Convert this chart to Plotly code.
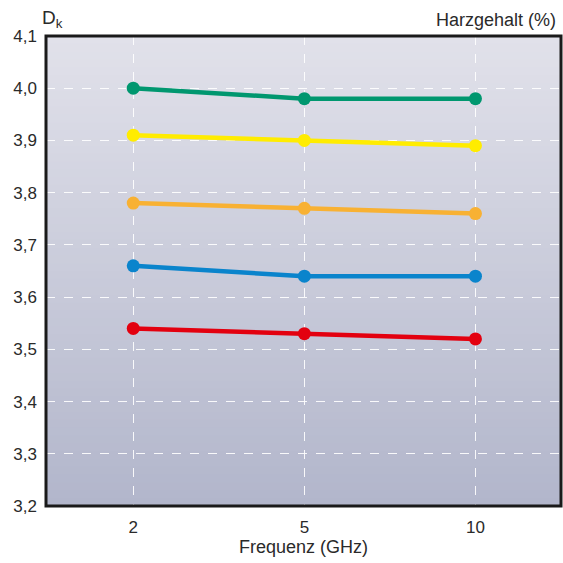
import plotly.graph_objects as go

freq = ["2", "5", "10"]
harz = ["42", "45", "50", "55", "60"]
dk_42 = [4.00, 3.98, 3.98]
dk_45 = [3.91, 3.90, 3.89]
dk_50 = [3.78, 3.77, 3.76]
dk_55 = [3.66, 3.64, 3.64]
dk_60 = [3.54, 3.53, 3.52]
colors = ["#00976F", "#FFEC00", "#F8B133", "#0A84CC", "#E3000F"]
yticks = [3.2, 3.3, 3.4, 3.5, 3.6, 3.7, 3.8, 3.9, 4.0, 4.1]

series = [dk_42, dk_45, dk_50, dk_55, dk_60]
FONT = "Liberation Sans, Arial, sans-serif"
TXT = "#2a2a2a"

fig = go.Figure()
annotations = []
for name, vals, col in zip(harz, series, colors):
    fig.add_trace(go.Scatter(
        x=freq, y=vals, mode="lines+markers", name=name,
        line=dict(color=col, width=4.5),
        marker=dict(color=col, size=13),
        showlegend=False, cliponaxis=False,
    ))
    annotations.append(dict(x=freq[-1], y=vals[-1], xref="x", yref="y",
                            text=name, showarrow=False, xanchor="left",
                            xshift=17, yshift=-2,
                            font=dict(size=17, color="#3a3a3a", family=FONT)))

# vertical gradient background
top = (225, 225, 234)
bot = (178, 182, 203)
n = 60
shapes = []
for i in range(n):
    t = i / (n - 1)
    c = tuple(round(top[k] + (bot[k] - top[k]) * t) for k in range(3))
    y0 = max(0.0, 1 - (i + 1) / n - 0.006)
    shapes.append(dict(type="rect", xref="x domain", yref="y domain",
                       x0=0, x1=1, y0=y0, y1=1 - i / n,
                       fillcolor="rgb(%d,%d,%d)" % c, line=dict(width=0),
                       layer="below"))
# frame
shapes.append(dict(type="rect", xref="x domain", yref="y domain",
                   x0=0, x1=1, y0=0, y1=1,
                   line=dict(color="#1a1a1a", width=3), layer="above"))

annotations += [
    dict(text="D<sub>k</sub>", xref="paper", yref="paper", x=0.0, y=1.0,
         xanchor="left", yanchor="bottom", xshift=-6, yshift=3, showarrow=False,
         font=dict(size=19, color=TXT, family=FONT)),
    dict(text="Harzgehalt (%)", xref="paper", yref="paper", x=1.0, y=1.0,
         xanchor="right", yanchor="bottom", xshift=-3, yshift=4, showarrow=False,
         font=dict(size=18, color=TXT, family=FONT)),
]

fig.update_layout(
    width=563, height=563,
    margin=dict(l=46, r=2, t=36, b=57, autoexpand=False),
    paper_bgcolor="white",
    plot_bgcolor="rgba(0,0,0,0)",
    separators=",.",
    font=dict(family=FONT, size=17, color=TXT),
    shapes=shapes,
    annotations=annotations,
    xaxis=dict(type="category", range=[-0.51, 2.5], automargin=False,
               showgrid=True, gridcolor="rgba(255,255,255,0.9)",
               griddash="dash", gridwidth=1.2,
               showline=False, zeroline=False, ticks="",
               ticklabelstandoff=9,
               tickfont=dict(size=17, color=TXT),
               title=dict(text="Frequenz (GHz)", standoff=4,
                          font=dict(size=18, color=TXT))),
    yaxis=dict(range=[3.2, 4.1], tickvals=yticks, tickformat=".1f",
               automargin=False,
               showgrid=True, gridcolor="rgba(255,255,255,0.9)",
               griddash="dash", gridwidth=1.2,
               showline=False, zeroline=False, ticks="",
               ticklabelstandoff=8,
               tickfont=dict(size=17, color=TXT)),
)

post = ("document.body.style.margin='0';document.body.style.overflow='hidden';"
        "Plotly.relayout('{plot_id}', {width:563, height:563});")
fig.write_html("out.html", config={"responsive": False, "displayModeBar": False},
               post_script=post)
